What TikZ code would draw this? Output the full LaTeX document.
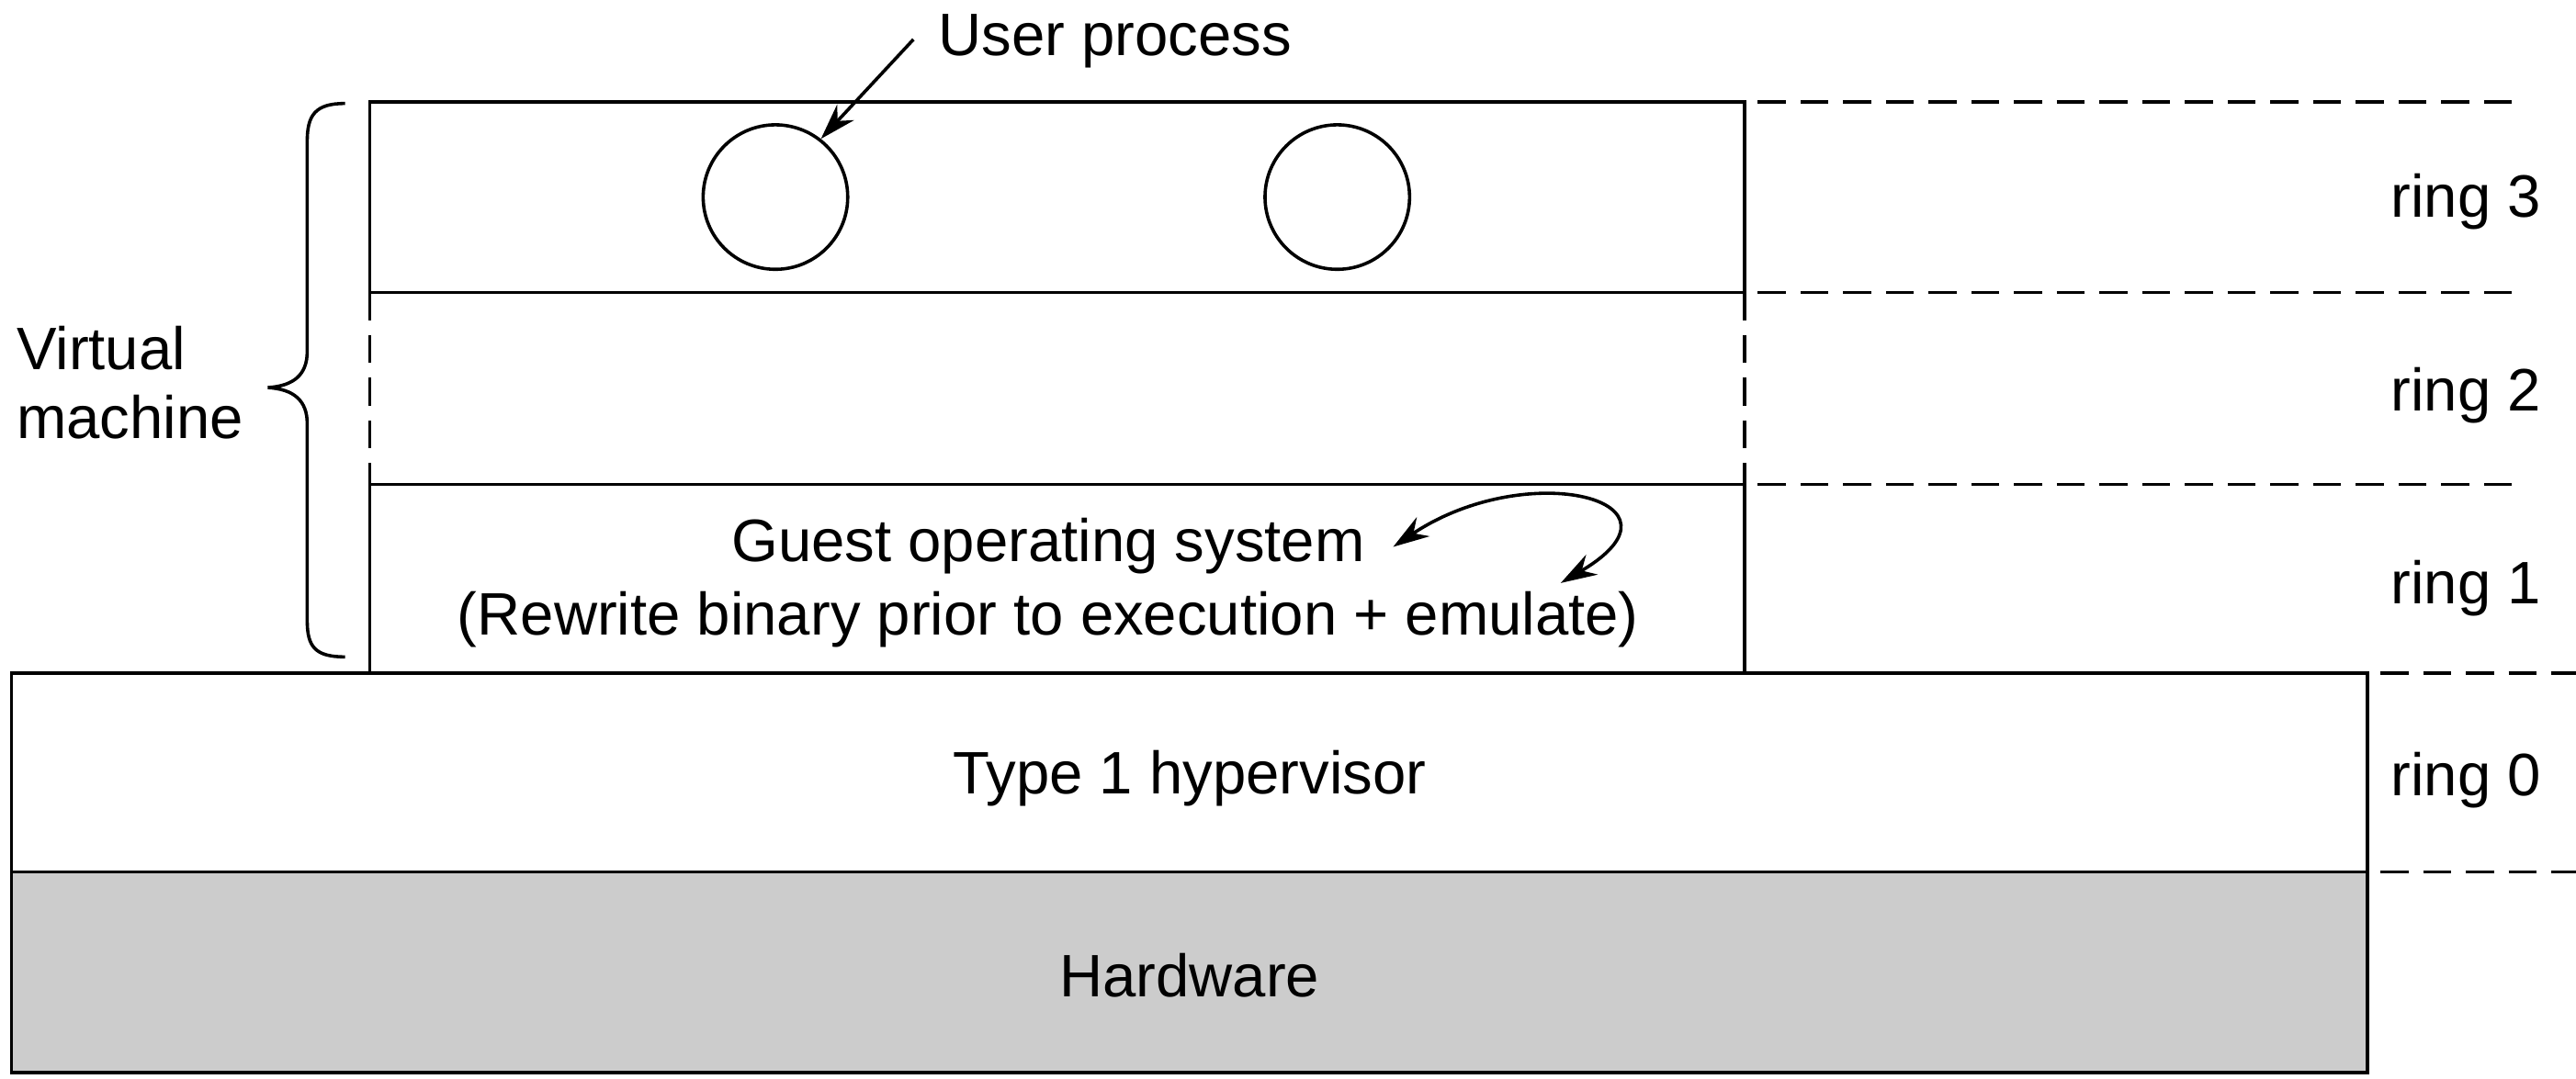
\documentclass[tikz,border=0pt]{standalone}
\usepackage{fontspec}
\setmainfont{Liberation Sans}
\usetikzlibrary{arrows.meta}
\begin{document}
\begin{tikzpicture}[x=1pt,y=-1pt,
  every node/.style={font=\fontsize{36.5}{43}\selectfont, inner sep=0pt},
  ln/.style={line width=2pt},
  dsh/.style={line width=2pt, dash pattern=on 17pt off 9pt},
  proc/.style={draw, circle, line width=2pt, minimum size=88pt},
  tip/.style={line width=2pt, -{Stealth[length=22pt,width=14pt]}},
  dtip/.style={line width=2pt, {Stealth[length=22pt,width=14pt]}-{Stealth[length=22pt,width=14pt]}}
]
\useasboundingbox (0,0) rectangle (1568,657);
% hardware and hypervisor
\filldraw[ln, fill=black!20] (7,531) rectangle (1441,653);
\draw[ln] (7,410) rectangle (1441,531);
% virtual machine box
\draw[ln] (225,410) -- (225,295) -- (1062,295) -- (1062,410);
\draw[ln] (225,178) -- (225,62) -- (1062,62) -- (1062,178);
\draw[ln] (225,178) -- (1062,178);
\draw[dsh] (225,178) -- (225,295);
\draw[dsh] (1062,178) -- (1062,295);
% ring boundary extensions
\draw[dsh] (1070,62) -- (1530,62);
\draw[dsh] (1070,178) -- (1530,178);
\draw[dsh] (1070,295) -- (1530,295);
\draw[dsh] (1449,410) -- (1568,410);
\draw[dsh] (1449,531) -- (1568,531);
% brace
\draw[ln] (210,63) .. controls (192,63) and (187,70) .. (187,86) -- (187,214)
  .. controls (187,228) and (179,235) .. (163,236)
  .. controls (179,237) and (187,244) .. (187,258) -- (187,378)
  .. controls (187,394) and (192,400) .. (210,400);
% texts
\node[anchor=west] (up) at (571,25) {User process};
\node[align=left, anchor=west, font=\fontsize{36.5}{42}\selectfont] (vm) at (10,233) {Virtual\\machine};
\node[align=center, font=\fontsize{36.5}{45}\selectfont] (gos) at (638,355) {Guest operating system\\(Rewrite binary prior to execution + emulate)};
\node (hyp) at (724,474) {Type 1 hypervisor};
\node (hw) at (724,594) {Hardware};
\node (r3) at (1501,123) {ring 3};
\node (r2) at (1501,241) {ring 2};
\node (r1) at (1501,358) {ring 1};
\node (r0) at (1501,475) {ring 0};
% processes
\node[proc] (c1) at (472,120) {};
\node[proc] (c2) at (814,120) {};
\coordinate (ua) at (556,24);
\draw[tip] (ua) -- (c1.52);
% emulate loop
\coordinate (e1) at (848,333);
\coordinate (e2) at (950,355);
\draw[dtip] (e1) .. controls (930,278) and (1035,305) .. (e2);
\end{tikzpicture}
\end{document}
